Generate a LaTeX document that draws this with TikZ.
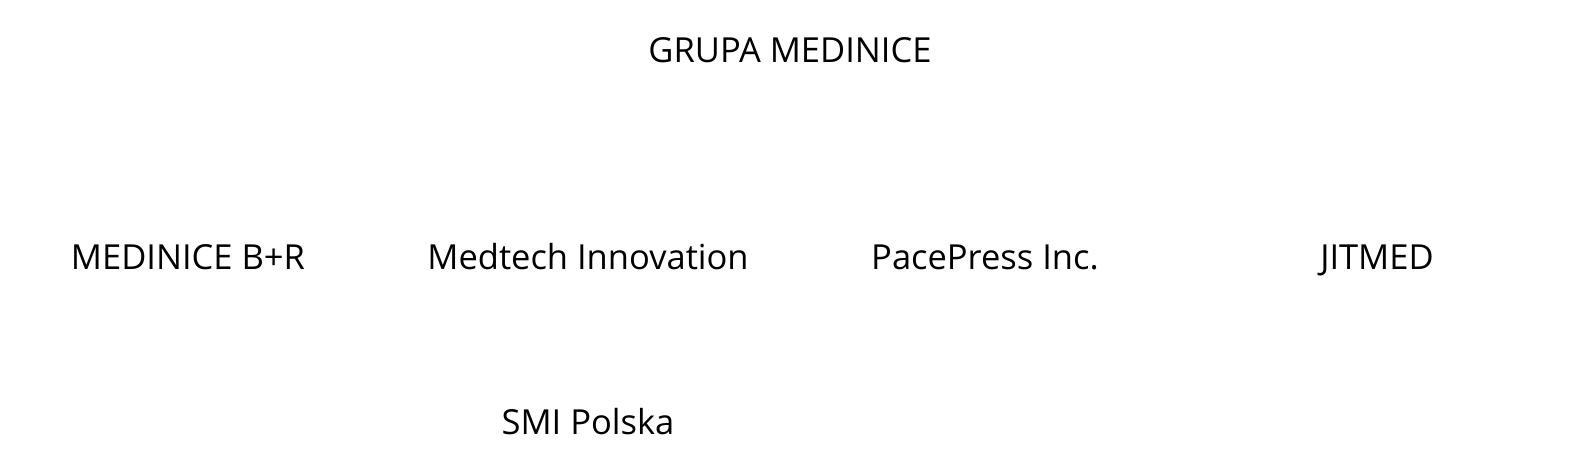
\documentclass[tikz,border=0pt]{standalone}
\usepackage{fontspec}
\setmainfont{Open Sans}
\begin{document}
\begin{tikzpicture}[x=1pt,y=-1pt,
  lbl/.style={anchor=base,inner sep=0pt,font=\fontsize{34.5}{41}\selectfont}]
\useasboundingbox (0,0) rectangle (1582,476);
\node[lbl] (root) at (790,63) {GRUPA MEDINICE};
\node[lbl] (br) at (188,269) {MEDINICE B+R};
\node[lbl] (mi) at (588,269) {Medtech Innovation};
\node[lbl] (pp) at (985,269) {PacePress Inc.};
\node[lbl] (jit) at (1377,269) {JITMED};
\node[lbl] (smi) at (588,434) {SMI Polska};
\end{tikzpicture}
\end{document}
